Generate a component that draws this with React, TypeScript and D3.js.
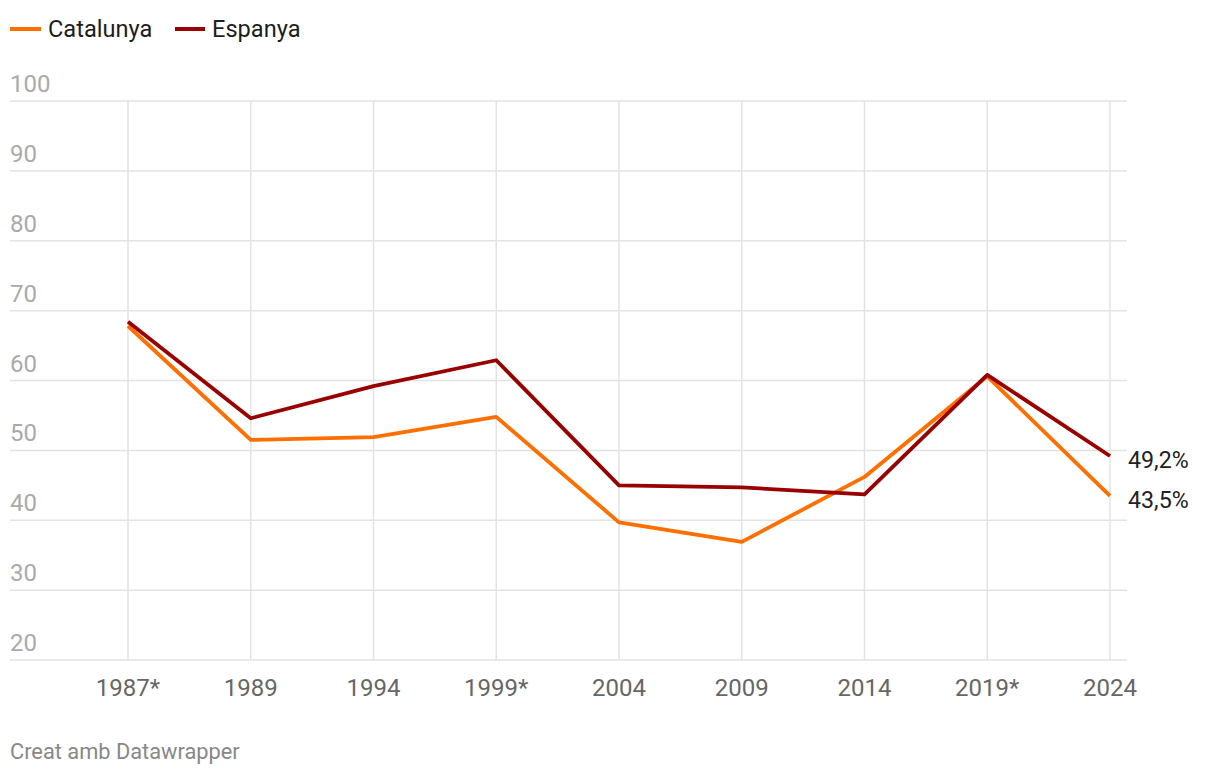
import React from 'react';
import * as d3 from 'd3';

const years = ['1987*', '1989', '1994', '1999*', '2004', '2009', '2014', '2019*', '2024'];
const catalunya = [67.8, 51.5, 51.9, 54.8, 39.7, 36.9, 46.2, 60.6, 43.5];
const espanya = [68.4, 54.6, 59.2, 62.9, 45.0, 44.7, 43.7, 60.8, 49.2];
const yTicks = [20, 30, 40, 50, 60, 70, 80, 90, 100];

const series = [
  { name: 'Catalunya', values: catalunya, color: '#ff6f00', label: '43,5%' },
  { name: 'Espanya', values: espanya, color: '#990000', label: '49,2%' },
];

const W = 1220;
const H = 778;
const font = 'Roboto, "Noto Sans", sans-serif';

const App: React.FC = () => {
  const x = d3.scalePoint<string>().domain(years).range([128, 1110]);
  const y = d3.scaleLinear().domain([20, 100]).range([660, 101]);
  const line = d3
    .line<number>()
    .x((_, i) => x(years[i])!)
    .y((d) => y(d));

  return (
    <svg
      width={W}
      height={H}
      style={{ position: 'absolute', left: 0, top: 0, background: '#fff' }}
      fontFamily={font}
    >
      {/* legend */}
      <g>
        <line x1={10} x2={41} y1={29} y2={29} stroke={series[0].color} strokeWidth={4} />
        <text x={48} y={37} fontSize={23.6} fill="#1d1d1d">Catalunya</text>
        <line x1={175} x2={205} y1={29} y2={29} stroke={series[1].color} strokeWidth={4} />
        <text x={212} y={37} fontSize={23.6} fill="#1d1d1d">Espanya</text>
      </g>

      {/* grid */}
      {yTicks.map((t) => (
        <g key={t}>
          <line x1={10} x2={1127} y1={y(t)} y2={y(t)} stroke="#e3e3e3" strokeWidth={1.5} />
          <text x={10} y={y(t) - 9} fontSize={24} fill="#aaaaaa">{t}</text>
        </g>
      ))}
      {years.map((yr) => (
        <g key={yr}>
          <line x1={x(yr)} x2={x(yr)} y1={y(100)} y2={y(20)} stroke="#e3e3e3" strokeWidth={1.5} />
          <text x={x(yr)} y={696} fontSize={24} fill="#666" textAnchor="middle">{yr}</text>
        </g>
      ))}

      {/* lines */}
      {series.map((s) => (
        <path
          key={s.name}
          d={line(s.values)!}
          fill="none"
          stroke={s.color}
          strokeWidth={3.8}
          strokeLinejoin="round"
        />
      ))}

      {/* end labels */}
      {series.map((s) => (
        <text
          key={s.name + '-label'}
          x={1128}
          y={y(s.values[s.values.length - 1]) + 12}
          fontSize={23.2}
          fill="#222"
        >
          {s.label}
        </text>
      ))}

      <text x={10} y={759} fontSize={21.8} fill="#888">Creat amb Datawrapper</text>
    </svg>
  );
};

export default App;
